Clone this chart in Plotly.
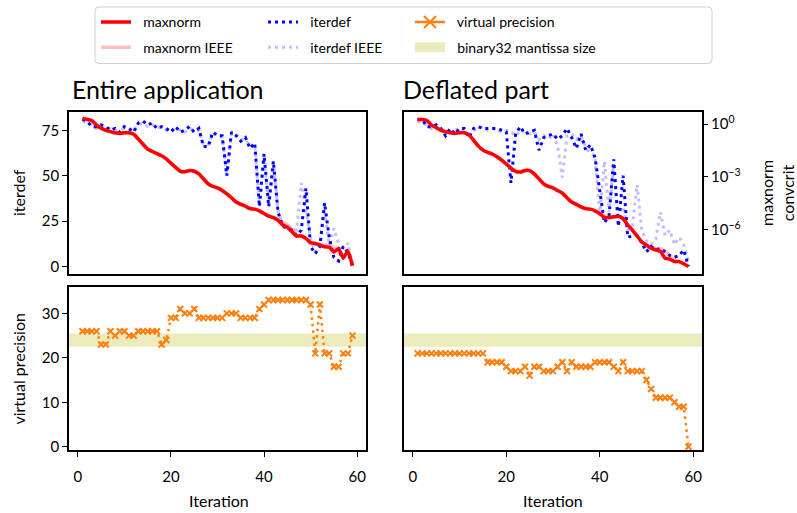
import plotly.graph_objects as go

W, H = 797, 513

# ---------------- data ----------------
iters = list(range(1, 60))

iterdef_entire = [81, 80, 77, 77, 78, 77, 75, 76, 74, 77, 76, 74, 79, 80, 78, 79, 76, 77, 76, 74,
                  77, 74, 75, 77, 74, 76, 66, 66, 74, 72, 72, 50, 74, 72, 69, 71, 65, 68, 33, 62,
                  33, 58, 30, 22, 21, 20, 17, 20, 43, 11, 7, 11, 35, 16, 5, 3, 11, 8, 0]
iterdef_entire_ieee = [80, 79, 78, 76, 77, 76, 76, 75, 75, 76, 75, 75, 78, 79, 77, 78, 77, 76, 75, 75,
                       76, 75, 74, 76, 75, 75, 67, 67, 73, 73, 71, 51, 73, 73, 70, 70, 66, 67, 34, 61,
                       34, 57, 31, 23, 22, 21, 20, 46, 30, 15, 8, 12, 30, 12, 21, 12, 4, 13, 1]
iterdef_deflated = [81, 81, 77, 77, 78, 76, 72, 76, 73, 76, 76, 71, 76, 77, 76, 76, 76, 76, 75, 74,
                    46, 73, 77, 73, 74, 75, 64, 71, 72, 73, 70, 72, 76, 71, 65, 73, 64, 67, 60, 42,
                    24, 28, 59, 22, 50, 16, 17, 17, 13, 8, 11, 9, 10, 8, 6, 5, 6, 9, 0]
iterdef_deflated_ieee = [80, 79, 78, 76, 77, 75, 75, 74, 75, 76, 74, 73, 75, 76, 77, 75, 76, 75, 74, 75,
                         74, 72, 75, 74, 73, 74, 70, 72, 70, 73, 66, 49, 72, 73, 70, 72, 66, 62, 61, 28,
                         58, 30, 56, 24, 33, 20, 22, 45, 20, 14, 12, 15, 30, 17, 20, 12, 16, 12, 3]

maxnorm_entire = [2.1, 1.8, 1.6, 0.87, 0.58, 0.44, 0.37, 0.32, 0.29, 0.32, 0.32, 0.26, 0.14, 0.072,
                  0.038, 0.028, 0.021, 0.016, 0.0105, 5.9e-3, 3.5e-3, 2.1e-3, 2.0e-3, 2.3e-3, 2.1e-3,
                  1.5e-3, 7.8e-4, 4.1e-4, 2.9e-4, 2.4e-4, 1.7e-4, 1.1e-4, 6.6e-5, 3.8e-5, 2.8e-5,
                  2.2e-5, 1.6e-5, 1.5e-5, 1.2e-5, 8.5e-6, 6.0e-6, 5.0e-6, 3.5e-6, 1.9e-6, 1.4e-6,
                  7.9e-7, 4.5e-7, 4.5e-7, 3.3e-7, 1.9e-7, 1.7e-7, 1.4e-7, 1.1e-7, 1.05e-7, 5.6e-8,
                  8.9e-8, 2.5e-8, 6.3e-8, 9.3e-9]
maxnorm_entire_ieee = [2.1, 1.8, 1.6, 0.87, 0.58, 0.44, 0.37, 0.32, 0.29, 0.32, 0.32, 0.26, 0.14, 0.072,
                       0.038, 0.028, 0.021, 0.016, 0.0105, 5.9e-3, 3.5e-3, 2.1e-3, 2.0e-3, 2.3e-3, 2.1e-3,
                       1.5e-3, 7.8e-4, 4.1e-4, 2.9e-4, 2.4e-4, 1.7e-4, 1.1e-4, 6.6e-5, 3.8e-5, 2.8e-5,
                       2.2e-5, 1.6e-5, 1.5e-5, 1.2e-5, 8.5e-6, 6.0e-6, 5.0e-6, 4.0e-6, 2.8e-6, 2.0e-6,
                       1.1e-6, 5.0e-7, 4.5e-7, 3.3e-7, 1.9e-7, 1.7e-7, 1.4e-7, 1.3e-7, 1.5e-7, 1.0e-7,
                       6.0e-8, 3.0e-8, 5.0e-8, 1.0e-8]
maxnorm_deflated = [1.8, 1.8, 1.6, 0.87, 0.62, 0.44, 0.37, 0.32, 0.29, 0.32, 0.32, 0.24, 0.12, 0.058,
                    0.033, 0.025, 0.020, 0.014, 9.1e-3, 5.4e-3, 3.2e-3, 2.1e-3, 1.9e-3, 2.3e-3, 2.3e-3,
                    1.5e-3, 7.8e-4, 4.1e-4, 2.9e-4, 2.4e-4, 1.7e-4, 1.2e-4, 6.6e-5, 3.8e-5, 2.8e-5,
                    2.0e-5, 1.6e-5, 1.5e-5, 1.2e-5, 8.5e-6, 5.0e-6, 5.0e-6, 5.5e-6, 6.0e-6, 4.4e-6,
                    1.9e-6, 9.8e-7, 4.5e-7, 2.1e-7, 1.4e-7, 9.1e-8, 7.4e-8, 6.0e-8, 2.5e-8, 2.2e-8,
                    1.6e-8, 1.6e-8, 1.2e-8, 8.5e-9]
maxnorm_deflated_ieee = [1.8, 1.8, 1.6, 0.87, 0.62, 0.44, 0.37, 0.32, 0.29, 0.32, 0.32, 0.24, 0.12, 0.058,
                         0.033, 0.025, 0.020, 0.014, 9.1e-3, 5.4e-3, 3.2e-3, 2.1e-3, 1.9e-3, 2.3e-3, 2.3e-3,
                         1.5e-3, 7.8e-4, 4.1e-4, 2.9e-4, 2.4e-4, 1.7e-4, 1.2e-4, 6.6e-5, 3.8e-5, 2.8e-5,
                         2.0e-5, 1.6e-5, 1.5e-5, 1.2e-5, 8.5e-6, 6.5e-6, 5.8e-6, 5.5e-6, 6.0e-6, 4.4e-6,
                         1.9e-6, 9.8e-7, 4.5e-7, 2.1e-7, 1.4e-7, 9.1e-8, 9.0e-8, 8.5e-8, 6.5e-8, 3.5e-8,
                         1.8e-8, 1.6e-8, 1.2e-8, 8.5e-9]

vprec_entire = [26, 26, 26, 26, 23, 23, 26, 25, 26, 26, 25, 25, 26, 26, 26, 26, 26, 23, 24, 29,
                29, 31, 30, 30, 31, 29, 29, 29, 29, 29, 29, 30, 30, 30, 29, 29, 29, 29, 31, 32,
                33, 33, 33, 33, 33, 33, 33, 33, 33, 32, 21, 32, 21, 21, 18, 18, 21, 21, 25]
vprec_deflated = [21, 21, 21, 21, 21, 21, 21, 21, 21, 21, 21, 21, 21, 21, 21, 19, 19, 19, 19, 18,
                  17, 17, 17, 18, 16, 18, 18, 17, 17, 17, 18, 19, 17, 19, 18, 18, 18, 18, 19, 19,
                  19, 19, 18, 17, 19, 17, 17, 17, 17, 15, 13, 11, 11, 11, 11, 10, 9, 9, 0]

band_low, band_high = 22.5, 25.5   # binary32 mantissa size band

x_ticks = [0, 20, 40, 60]
iterdef_ticks = [0, 25, 50, 75]
vprec_ticks = [0, 10, 20, 30]
conv_ticks = [1, 1e-3, 1e-6]
conv_ticktext = ["10<sup>0</sup>", "10<sup>\u22123</sup>", "10<sup>\u22126</sup>"]

# ---------------- styles ----------------
FONT = "Lato"
RED = "#ff0000"
RED_L = "rgba(255,0,0,0.25)"
BLUE = "#0000ff"
BLUE_L = "rgba(0,0,255,0.25)"
ORANGE = "#ff7f0e"
BAND = "rgba(188,189,34,0.30)"
DOT = "3px,4px"


def px(x):
    return x / W


def py(y):
    return 1 - y / H


fig = go.Figure()

panels = [
    ("x", "y", "y2", iterdef_entire_ieee, iterdef_entire, maxnorm_entire_ieee, maxnorm_entire),
    ("x2", "y3", "y4", iterdef_deflated_ieee, iterdef_deflated, maxnorm_deflated_ieee, maxnorm_deflated),
]
for xa, ya, ylog, it_ieee, it, mn_ieee, mn in panels:
    fig.add_trace(go.Scatter(x=iters, y=it_ieee, xaxis=xa, yaxis=ya, mode="lines", showlegend=False,
                             line=dict(color=BLUE_L, width=3, dash=DOT)))
    fig.add_trace(go.Scatter(x=iters, y=it, xaxis=xa, yaxis=ya, mode="lines", showlegend=False,
                             line=dict(color=BLUE, width=3, dash=DOT)))
    fig.add_trace(go.Scatter(x=iters, y=mn_ieee, xaxis=xa, yaxis=ylog, mode="lines", showlegend=False,
                             line=dict(color=RED_L, width=3.5, shape="spline", smoothing=0.5)))
    fig.add_trace(go.Scatter(x=iters, y=mn, xaxis=xa, yaxis=ylog, mode="lines", showlegend=False,
                             line=dict(color=RED, width=3.5, shape="spline", smoothing=0.5)))

for xa, ya, vp in [("x3", "y5", vprec_entire), ("x4", "y6", vprec_deflated)]:
    fig.add_trace(go.Scatter(x=iters, y=vp, xaxis=xa, yaxis=ya, mode="lines+markers", showlegend=False,
                             line=dict(color=ORANGE, width=2.5, dash="2.5px,4px"),
                             marker=dict(symbol="x-thin", size=6, color=ORANGE,
                                         line=dict(width=2, color=ORANGE))))

# legend entries (one legend per entry for exact placement)
NB = "\u00a0" * 2
legend_entries = [
    ("maxnorm", dict(mode="lines", line=dict(color=RED, width=3.5)), 96, 22.5),
    ("maxnorm IEEE", dict(mode="lines", line=dict(color=RED_L, width=3.5)), 96, 48),
    ("iterdef", dict(mode="lines", line=dict(color=BLUE, width=3, dash=DOT)), 263, 22.5),
    ("iterdef IEEE", dict(mode="lines", line=dict(color=BLUE_L, width=3, dash=DOT)), 263, 48),
    ("virtual precision", dict(mode="lines+markers", line=dict(color=ORANGE, width=2.5),
                               marker=dict(symbol="x-thin", size=12, color=ORANGE,
                                           line=dict(width=2, color=ORANGE))), 410, 22.5),
    ("binary32 mantissa size", dict(mode="lines", line=dict(color=BAND, width=13)), 410, 48),
]
for k, (name, style, lx, ly) in enumerate(legend_entries):
    lname = "legend" if k == 0 else f"legend{k + 1}"
    fig.add_trace(go.Scatter(x=[None], y=[None], name=NB + name, legend=lname, showlegend=True,
                             xaxis="x", yaxis="y", **style))
    fig.update_layout({lname: dict(x=px(lx), y=py(ly), xanchor="left", yanchor="middle",
                                   bgcolor="rgba(0,0,0,0)", borderwidth=0,
                                   font=dict(family=FONT, size=14, color="black"),
                                   itemclick=False, itemdoubleclick=False)})

ax_common = dict(showline=True, linecolor="black", linewidth=1.6, mirror=True, showgrid=False,
                 zeroline=False, tickcolor="black", ticklen=5, tickwidth=1,
                 tickfont=dict(family=FONT, size=15, color="black"))
xr = [-1.9, 61.9]
yr_it = [-4.1, 85.0]
yr_log = [-8.49, 0.675]
yr_vp = [-0.85, 36.0]
dom_xl = [px(69), px(366)]
dom_xr = [px(404), px(702)]
dom_top = [py(276), py(113)]
dom_bot = [py(454), py(289)]

fig.update_layout(
    xaxis=dict(ax_common, domain=dom_xl, anchor="y", range=xr, showticklabels=False, ticks=""),
    yaxis=dict(ax_common, domain=dom_top, anchor="x", range=yr_it, tickvals=iterdef_ticks, ticks="outside"),
    yaxis2=dict(ax_common, overlaying="y", anchor="x", side="right", type="log", range=yr_log,
                showticklabels=False, ticks="", showline=False),
    xaxis2=dict(ax_common, domain=dom_xr, anchor="y3", range=xr, showticklabels=False, ticks=""),
    yaxis3=dict(ax_common, domain=dom_top, anchor="x2", range=yr_it, showticklabels=False, ticks=""),
    yaxis4=dict(ax_common, overlaying="y3", anchor="x2", side="right", type="log", range=yr_log,
                tickvals=conv_ticks, ticktext=conv_ticktext, ticks="outside", showline=False),
    xaxis3=dict(ax_common, domain=dom_xl, anchor="y5", range=xr, tickvals=x_ticks, ticks="outside",
                ticklabelstandoff=7),
    yaxis5=dict(ax_common, domain=dom_bot, anchor="x3", range=yr_vp, tickvals=vprec_ticks, ticks="outside"),
    xaxis4=dict(ax_common, domain=dom_xr, anchor="y6", range=xr, tickvals=x_ticks, ticks="outside",
                ticklabelstandoff=7),
    yaxis6=dict(ax_common, domain=dom_bot, anchor="x4", range=yr_vp, showticklabels=False, ticks=""),
)

# binary32 band
for xa, ya in [("x3", "y5"), ("x4", "y6")]:
    fig.add_shape(type="rect", xref=f"{xa} domain", yref=ya, x0=0, x1=1, y0=band_low, y1=band_high,
                  fillcolor=BAND, line=dict(width=0), layer="below")

# legend frame (rounded)
fx0, fx1, fy0, fy1, r = 95, 712, 7, 64, 4
path = (f"M{px(fx0 + r)},{py(fy0)} L{px(fx1 - r)},{py(fy0)} Q{px(fx1)},{py(fy0)} {px(fx1)},{py(fy0 + r)} "
        f"L{px(fx1)},{py(fy1 - r)} Q{px(fx1)},{py(fy1)} {px(fx1 - r)},{py(fy1)} "
        f"L{px(fx0 + r)},{py(fy1)} Q{px(fx0)},{py(fy1)} {px(fx0)},{py(fy1 - r)} "
        f"L{px(fx0)},{py(fy0 + r)} Q{px(fx0)},{py(fy0)} {px(fx0 + r)},{py(fy0)} Z")
fig.add_shape(type="path", xref="paper", yref="paper", path=path,
              line=dict(color="#d0d0d0", width=1), fillcolor="rgba(255,255,255,0.8)", layer="below")


# texts
def note(text, x, y, size, xanchor="center", yanchor="middle", angle=0):
    fig.add_annotation(text=text, x=px(x), y=py(y), xref="paper", yref="paper", showarrow=False,
                       xanchor=xanchor, yanchor=yanchor, textangle=angle,
                       font=dict(family=FONT, size=size, color="black"))


note("Entire application", 70, 107, 25, xanchor="left", yanchor="bottom")
note("Deflated part", 401, 107, 25, xanchor="left", yanchor="bottom")
note("iterdef", 19, 194.5, 16, angle=-90)
note("virtual precision", 19, 371.5, 16, angle=-90)
note("maxnorm<br>convcrit", 777, 194.5, 16, angle=-90)
note("Iteration", 219, 504, 16)
note("Iteration", 553, 504, 16)

fig.update_layout(width=W, height=H, margin=dict(l=0, r=0, t=0, b=0),
                  paper_bgcolor="white", plot_bgcolor="white",
                  font=dict(family=FONT, color="black"))

fig.write_html("out.html")
